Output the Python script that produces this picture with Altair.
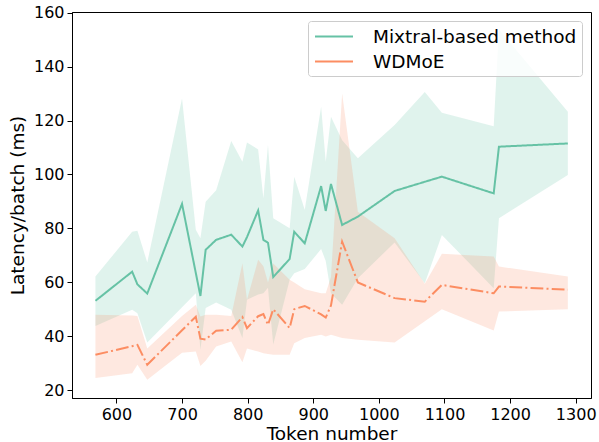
import altair as alt
import pandas as pd

# ---- data ----
tokens = [568, 624, 632, 647, 700, 721, 728, 736, 752, 775, 792, 799, 816, 824,
          831, 839, 864, 871, 887, 912, 919, 927, 944, 968, 1024, 1070, 1096,
          1175, 1183, 1288]

mixtral_mean = [53.2, 64.0, 59.3, 55.9, 89.1, 63.5, 55.0, 72.1, 75.8, 77.7, 73.3,
                76.8, 86.7, 75.8, 74.7, 62.0, 68.7, 78.8, 74.5, 95.7, 86.5, 96.5,
                81.3, 84.4, 93.9, 97.3, 99.2, 93.0, 110.3, 111.5]
mixtral_lower = [43.9, 49.9, 48.6, 37.8, 50.8, 56.0, 35.1, 50.5, 52.6, 49.9, 39.4,
                 53.6, 55.5, 56.0, 58.0, 37.0, 61.0, 63.4, 65.0, 72.4, 68.0, 56.0,
                 51.7, 61.6, 74.8, 59.7, 77.6, 57.9, 83.8, 99.8]
mixtral_upper = [62.2, 78.8, 79.2, 67.4, 128.2, 79.5, 76.4, 89.9, 94.2, 112.4, 104.7,
                 111.9, 109.3, 91.2, 110.9, 83.8, 80.1, 99.2, 86.9, 125.1, 104.7,
                 121.4, 112.7, 106.0, 118.3, 130.6, 122.9, 117.9, 153.7, 123.2]

wdmoe_mean = [33.2, 36.4, 36.9, 29.5, 42.3, 47.3, 39.2, 38.9, 42.1, 42.5, 47.2,
              43.1, 47.5, 48.3, 44.3, 50.1, 43.1, 50.1, 51.3, 48.2, 47.0, 51.5,
              75.1, 60.0, 54.2, 52.9, 59.1, 56.0, 58.5, 57.3]
wdmoe_lower = [24.6, 26.4, 29.5, 24.0, 34.0, 34.4, 29.1, 31.0, 36.3, 38.1, 30.4,
               35.5, 34.4, 33.8, 33.5, 33.2, 33.2, 37.5, 39.4, 40.6, 40.0, 40.6,
               39.4, 38.8, 37.8, 45.6, 50.1, 42.2, 49.2, 50.1]
wdmoe_upper = [48.0, 47.8, 47.6, 35.5, 47.6, 51.7, 47.4, 48.0, 48.0, 47.6, 67.1,
               53.6, 68.4, 66.0, 60.0, 67.0, 61.0, 60.0, 57.5, 56.0, 56.0, 62.0,
               130.0, 86.2, 76.4, 59.5, 70.6, 69.6, 65.9, 62.2]

series_names = ["Mixtral-based method", "WDMoE"]
series_colors = ["#66c2a5", "#fc8d62"]
x_ticks = [600, 700, 800, 900, 1000, 1100, 1200, 1300]
y_ticks = [20, 40, 60, 80, 100, 120, 140, 160]

rows = []
for name, mean, lo, hi in [(series_names[0], mixtral_mean, mixtral_lower, mixtral_upper),
                           (series_names[1], wdmoe_mean, wdmoe_lower, wdmoe_upper)]:
    for t, m, l, h in zip(tokens, mean, lo, hi):
        rows.append({"token": t, "mean": m, "lower": l, "upper": h, "series": name})
df = pd.DataFrame(rows)

FONT = "DejaVu Sans"

x_enc = alt.X("token:Q", title="Token number",
              scale=alt.Scale(domain=[532.3, 1323.3], nice=False, zero=False),
              axis=alt.Axis(values=x_ticks, format="d"))
y_scale = alt.Scale(domain=[17.2, 160.2], nice=False, zero=False)

bands = alt.Chart(df).mark_area(opacity=0.2, interpolate="linear").encode(
    x=x_enc,
    y=alt.Y("lower:Q", scale=y_scale, title="Latency/batch (ms)",
            axis=alt.Axis(values=y_ticks)),
    y2="upper:Q",
    fill=alt.Fill("series:N", scale=alt.Scale(domain=series_names, range=series_colors),
                  legend=None),
    detail="series:N",
)

lines = alt.Chart(df).mark_line(strokeWidth=2, interpolate="linear").encode(
    x=x_enc,
    y=alt.Y("mean:Q", scale=y_scale),
    color=alt.Color("series:N",
                    scale=alt.Scale(domain=series_names, range=series_colors),
                    legend=alt.Legend(title=None)),
    strokeDash=alt.StrokeDash("series:N",
                              scale=alt.Scale(domain=series_names,
                                              range=[[1, 0], [12.8, 3.2, 2, 3.2]]),
                              legend=alt.Legend(title=None)),
)

chart = alt.layer(bands, lines).resolve_scale(color="independent").properties(
    width=519, height=386,
    autosize=alt.AutoSizeParams(type="none"),
    padding={"left": 72, "top": 12, "right": 8, "bottom": 44},
).configure_view(
    stroke="black", strokeWidth=1
).configure_axis(
    grid=False,
    labelFont=FONT, titleFont=FONT,
    labelFontSize=16, titleFontSize=18.5, titleFontWeight="normal",
    labelColor="black", titleColor="black",
    domainColor="black", tickColor="black",
    tickSize=5, labelPadding=3,
).configure_axisX(
    titlePadding=2,
).configure_axisY(
    titlePadding=6,
).configure_legend(
    orient="top-right", offset=9,
    labelFont=FONT, labelFontSize=18.5, labelColor="black", labelLimit=0,
    symbolType="M-0.895,0H3.105", symbolSize=361, symbolStrokeWidth=2,
    labelOffset=39, rowPadding=5, padding=5,
    fillColor="rgba(255,255,255,0.8)", strokeColor="#cccccc", cornerRadius=3,
)

chart.save("out.html", embed_options={"renderer": "svg", "actions": False})
